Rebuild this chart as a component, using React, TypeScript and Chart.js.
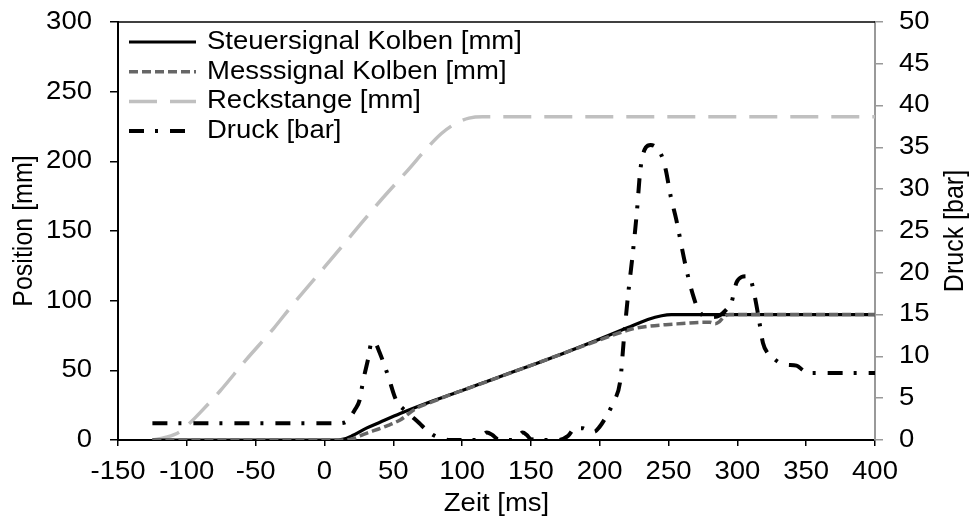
import React, { useEffect, useRef } from "react";
import { Chart, registerables } from "chart.js";

Chart.register(...registerables);

// ---------- data ----------
const steuerTime = [-125, 10, 14, 20, 30.5, 40, 55, 80, 100, 122, 150, 171, 200, 220, 235, 245, 252, 258, 400];
const steuerPos = [0, 0, 0.6, 3, 8.5, 12.6, 19, 28.5, 35.5, 43.5, 53.5, 61.2, 72.5, 80.5, 86.5, 89.2, 90, 90, 90];

const messTime = [-125, 12, 20, 30.5, 45, 55, 66.8, 78.6, 90, 100, 150, 200, 224, 235, 248, 260, 272, 280, 284, 287, 290, 294, 400];
const messPos = [0, 0, 0.8, 4.8, 10, 14.4, 22.8, 27.5, 32, 35.5, 53.5, 71.8, 79.8, 81.6, 82.8, 83.6, 84.4, 84.5, 83.5, 85, 88.2, 90, 90];

const reckTime = [-125, -115, -105, -98, -90, -76, -57, -37, -24, 0, 20, 40, 60, 75, 85, 95, 105, 115, 400];
const reckPos = [0, 2, 6, 12, 20, 35, 57.5, 80, 96, 124, 147.5, 171, 193, 210, 220, 227, 231, 232, 232];

const druckTime = [-125, -100, 10, 15, 18, 22, 25.6, 28, 31.6, 34.5, 37, 40, 46, 52, 59.5, 65, 69, 74, 79, 85, 91, 110, 114, 118, 122, 126, 135, 140, 144, 147, 150, 170, 177, 182, 188, 192, 196, 200, 204, 208, 211, 215, 217.6, 220.5, 224, 227, 229.5, 233.5, 237, 241, 245, 248, 251.5, 255.7, 261, 264.4, 268, 271, 276, 282, 287, 292, 295.6, 299.3, 303, 307, 309.5, 312.6, 315.7, 318.6, 322, 326, 331, 336, 343, 348, 352, 400];
const druckBar = [2, 2, 2, 2.1, 2.6, 3.6, 4.8, 7, 9.6, 11.8, 11.6, 10.5, 7.8, 4.8, 3.4, 2.6, 2, 1.2, 0.6, 0.2, 0, 0, 0.4, 0.9, 0.6, 0.1, 0, 0.2, 0.9, 0.6, 0.1, 0, 0.5, 1.4, 1.4, 1, 1, 1.6, 2.6, 3.8, 4.8, 7.2, 12.2, 17.2, 22.3, 27.3, 32.3, 35, 35.3, 35, 34, 32.3, 29.2, 26.3, 21.9, 19.4, 17.2, 15.8, 14.8, 14.7, 14.9, 15.6, 16.4, 18.8, 19.5, 19.6, 19.3, 17.2, 14.4, 11.6, 10.4, 9.8, 9.2, 9, 8.9, 8.3, 8, 8];

const seriesLabels = ["Steuersignal Kolben [mm]", "Messsignal Kolben [mm]", "Reckstange [mm]", "Druck [bar]"];
const xTitle = "Zeit [ms]";
const yTitle = "Position [mm]";
const y1Title = "Druck [bar]";

// ---------- styling ----------
const FONT = "'Liberation Sans', Arial, Helvetica, sans-serif";
const FS = 25;
const STRETCH = 1.1;

const pts = (xs: number[], ys: number[]) => xs.map((x, i) => ({ x, y: ys[i] }));

function stretchText(ctx: any) {
  if (ctx.__stretched) return;
  const orig = ctx.fillText.bind(ctx);
  ctx.fillText = function (text: string, x: number, y: number) {
    const m = ctx.getTransform();
    const p = m.transformPoint(new DOMPoint(x, y));
    ctx.save();
    ctx.setTransform(new DOMMatrix().translate(p.x, p.y).scale(STRETCH, 1).translate(-p.x, -p.y).multiply(m));
    orig(text, x, y);
    ctx.restore();
  };
  ctx.__stretched = true;
}

const noPad = (s: any) => {
  s.paddingTop = 0;
  s.paddingBottom = 0;
  s.paddingLeft = 0;
  s.paddingRight = 0;
};

const framePlugin = {
  id: "frameLegend",
  beforeDraw(chart: any) {
    stretchText(chart.ctx);
  },
  afterDraw(chart: any) {
    const { ctx, chartArea } = chart;
    ctx.save();
    // top frame line
    ctx.strokeStyle = "#000";
    ctx.lineWidth = 1.5;
    ctx.setLineDash([]);
    ctx.beginPath();
    ctx.moveTo(chartArea.left, chartArea.top);
    ctx.lineTo(chartArea.right, chartArea.top);
    ctx.stroke();
    // legend inside plot
    const x0 = chartArea.left + 11;
    const x1 = chartArea.left + 78;
    const tx = chartArea.left + 89;
    const ds = chart.data.datasets;
    ds.forEach((d: any, i: number) => {
      const y = chartArea.top + 20 + i * 29.7;
      ctx.save();
      ctx.strokeStyle = d.borderColor;
      ctx.lineWidth = d.borderWidth;
      ctx.setLineDash(d.borderDash || []);
      ctx.lineCap = "butt";
      ctx.beginPath();
      ctx.moveTo(x0, y);
      ctx.lineTo(x1, y);
      ctx.stroke();
      ctx.restore();
      ctx.fillStyle = "#000";
      ctx.font = `${FS}px ${FONT}`;
      ctx.textAlign = "left";
      ctx.textBaseline = "middle";
      ctx.fillText(d.label, tx, y);
    });
    // right axis title, reading bottom to top
    ctx.save();
    ctx.translate(chart.width - 15, (chartArea.top + chartArea.bottom) / 2);
    ctx.rotate(-Math.PI / 2);
    ctx.fillStyle = "#000";
    ctx.font = `${FS}px ${FONT}`;
    ctx.textAlign = "center";
    ctx.textBaseline = "middle";
    ctx.fillText(y1Title, 0, 0);
    ctx.restore();
    ctx.restore();
  },
};

export default function App() {
  const ref = useRef<HTMLCanvasElement | null>(null);
  useEffect(() => {
    document.body.style.margin = "0";
    const canvas = ref.current!;
    const chart = new Chart(canvas, {
      type: "line",
      data: {
        datasets: [
          {
            label: seriesLabels[0],
            data: pts(steuerTime, steuerPos),
            borderColor: "#000000",
            borderWidth: 3.2,
            yAxisID: "y",
            order: 2,
          },
          {
            label: seriesLabels[1],
            data: pts(messTime, messPos),
            borderColor: "#666666",
            borderWidth: 3.5,
            borderDash: [9, 4],
            yAxisID: "y",
            order: 1,
          },
          {
            label: seriesLabels[2],
            data: pts(reckTime, reckPos),
            borderColor: "#c0c0c0",
            borderWidth: 3.5,
            borderDash: [28, 13],
            yAxisID: "y",
            order: 3,
          },
          {
            label: seriesLabels[3],
            data: pts(druckTime, druckBar),
            borderColor: "#000000",
            borderWidth: 4,
            borderDash: [15, 11, 3, 12],
            yAxisID: "y1",
            order: 0,
          },
        ],
      },
      options: {
        responsive: false,
        animation: false,
        devicePixelRatio: 1,
        layout: { padding: { top: 22, left: 0, right: 0, bottom: 0 } },
        elements: {
          point: { radius: 0 },
          line: { cubicInterpolationMode: "monotone", fill: false, borderCapStyle: "butt" },
        },
        plugins: { legend: { display: false }, tooltip: { enabled: false } },
        scales: {
          x: {
            type: "linear",
            min: -150,
            max: 400,
            afterFit: (s: any) => { s.height = 81; noPad(s); },
            ticks: { stepSize: 50, color: "#000", padding: 11.5, font: { family: FONT, size: FS }, maxRotation: 0, autoSkip: false },
            grid: { drawOnChartArea: false, drawTicks: true, tickLength: 6, color: "#000", lineWidth: 1.5 },
            border: { display: true, color: "#000", width: 2 },
            title: { display: true, text: xTitle, color: "#000", font: { family: FONT, size: FS }, padding: { top: 0, bottom: 1.5 } },
          },
          y: {
            type: "linear",
            position: "left",
            min: 0,
            max: 300,
            afterFit: (s: any) => { s.width = 118; noPad(s); },
            ticks: { stepSize: 50, color: "#000", padding: 18, font: { family: FONT, size: FS } },
            grid: { drawOnChartArea: false, drawTicks: true, tickLength: 8, color: "#000", lineWidth: 1.5 },
            border: { display: true, color: "#000", width: 2 },
            title: { display: true, text: yTitle, color: "#000", font: { family: FONT, size: FS }, padding: { top: 9, bottom: 0 } },
          },
          y1: {
            type: "linear",
            position: "right",
            min: 0,
            max: 50,
            afterFit: (s: any) => { s.width = 95; noPad(s); },
            ticks: { stepSize: 5, color: "#000", padding: 16, font: { family: FONT, size: FS } },
            grid: { drawOnChartArea: false, drawTicks: true, tickLength: 8, color: "#999999", lineWidth: 1.5 },
            border: { display: true, color: "#999999", width: 2 },
            title: { display: false, text: y1Title },
          },
        },
      },
      plugins: [framePlugin],
    } as any);
    return () => chart.destroy();
  }, []);
  return <canvas ref={ref} width={970} height={521} style={{ display: "block" }} />;
}
